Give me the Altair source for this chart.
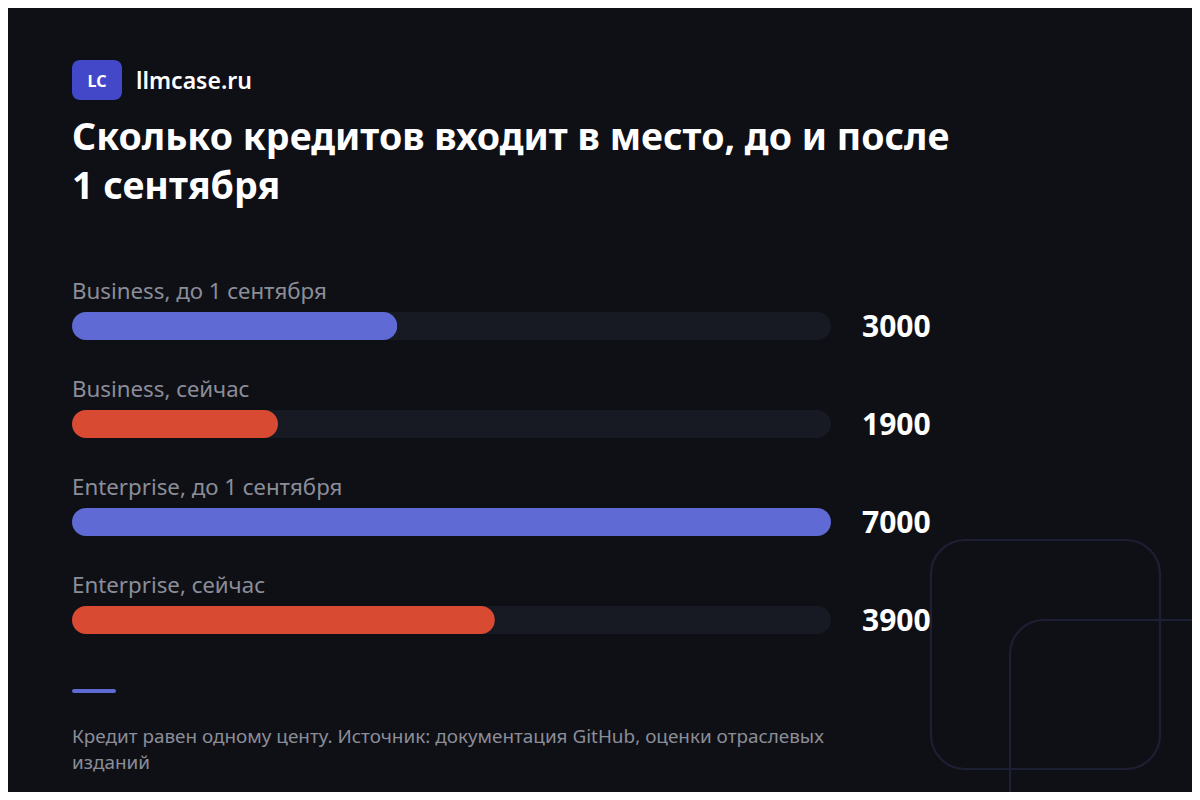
import altair as alt
import pandas as pd

# ---- data ----
categories = [
    "Business, до 1 сентября",
    "Business, сейчас",
    "Enterprise, до 1 сентября",
    "Enterprise, сейчас",
]
values = [3000, 1900, 7000, 3900]
periods = ["до 1 сентября", "сейчас", "до 1 сентября", "сейчас"]
scale_max = 7000

title_lines = ["Сколько кредитов входит в место, до и после", "1 сентября"]
brand = "llmcase.ru"
logo_text = "LC"
footnote_lines = [
    "Кредит равен одному центу. Источник: документация GitHub, оценки отраслевых",
    "изданий",
]

# ---- styles ----
BG = "#0f1016"
TRACK = "#181a23"
BLUE = "#5f6ad4"
RED = "#d84a32"
GRAY = "#8b8d98"
FONT = "Noto Sans"
OFF = 8  # page margin

df = pd.DataFrame({
    "category": categories,
    "value": values,
    "period": periods,
    "track": [scale_max] * len(categories),
})

W, H = 1200 - 2 * OFF, 800 - 2 * OFF

xscale = alt.Scale(domain=[0, scale_max], range=[72 - OFF, 831 - OFF])
yscale = alt.Scale(type="point", domain=categories, range=[326 - OFF, 620 - OFF], padding=0)

one = alt.Data(values=[{}])

def deco_rect(x1, y1, x2, y2, **kw):
    return alt.Chart(one).mark_rect(**kw).encode(
        x=alt.value(x1 - OFF), x2=alt.value(x2 - OFF),
        y=alt.value(y1 - OFF), y2=alt.value(y2 - OFF),
    )

def deco_text(txt, x, y, **kw):
    return alt.Chart(one).mark_text(align="left", baseline="middle", font=FONT, **kw).encode(
        x=alt.value(x - OFF), y=alt.value(y - OFF), text=alt.value(txt)
    )

sq1 = deco_rect(931, 540, 1160, 769, filled=False, stroke="#1d1f33", strokeWidth=2.2, cornerRadius=34)
sq2 = deco_rect(1010, 620, 1240, 850, filled=False, stroke="#1d1f33", strokeWidth=2.2, cornerRadius=34)

logo = deco_rect(72, 60, 122, 100, color="#4348c9", cornerRadius=8)
logo_t = alt.Chart(one).mark_text(align="center", baseline="middle", font=FONT, fontSize=16,
                                  fontWeight="bold", color="white").encode(
    x=alt.value(97 - OFF), y=alt.value(82 - OFF), text=alt.value(logo_text))
brand_t = deco_text(brand, 136, 82, fontSize=23, fontWeight=600, color="white")

t1 = deco_text(title_lines[0], 72, 139, fontSize=37.5, fontWeight="bold", color="white")
t2 = deco_text(title_lines[1], 72, 188, fontSize=37.5, fontWeight="bold", color="white")

base = alt.Chart(df)
y_enc = alt.Y("category:N", scale=yscale, axis=None)

track = base.mark_bar(size=28, cornerRadius=14, color=TRACK).encode(
    x=alt.X("track:Q", scale=xscale, axis=None), y=y_enc)
bars = base.mark_bar(size=28, cornerRadius=14).encode(
    x=alt.X("value:Q", scale=xscale, axis=None), y=y_enc,
    color=alt.Color("period:N", scale=alt.Scale(domain=["до 1 сентября", "сейчас"], range=[BLUE, RED]),
                    legend=None))
labels = base.mark_text(align="left", baseline="middle", dy=-34, font=FONT, fontSize=22.3, color=GRAY).encode(
    x=alt.value(72 - OFF), y=y_enc, text="category:N")
vals = base.mark_text(align="left", baseline="middle", dy=2, font=FONT, fontSize=30, fontWeight="bold",
                      color="white").encode(
    x=alt.value(862 - OFF), y=y_enc, text="value:Q")

accent = deco_rect(72, 689, 116, 693, color=BLUE, cornerRadius=2)
f1 = deco_text(footnote_lines[0], 72, 737, fontSize=18.9, color=GRAY)
f2 = deco_text(footnote_lines[1], 72, 763, fontSize=18.9, color=GRAY)

chart = alt.layer(
    sq1, sq2, logo, logo_t, brand_t, t1, t2, track, bars, labels, vals, accent, f1, f2
).properties(
    width=W, height=H, padding=0, autosize=alt.AutoSizeParams(type="none"),
    background=BG,
).configure_view(stroke=None)

chart.save("out.html", embed_options={"renderer": "svg", "actions": False})
